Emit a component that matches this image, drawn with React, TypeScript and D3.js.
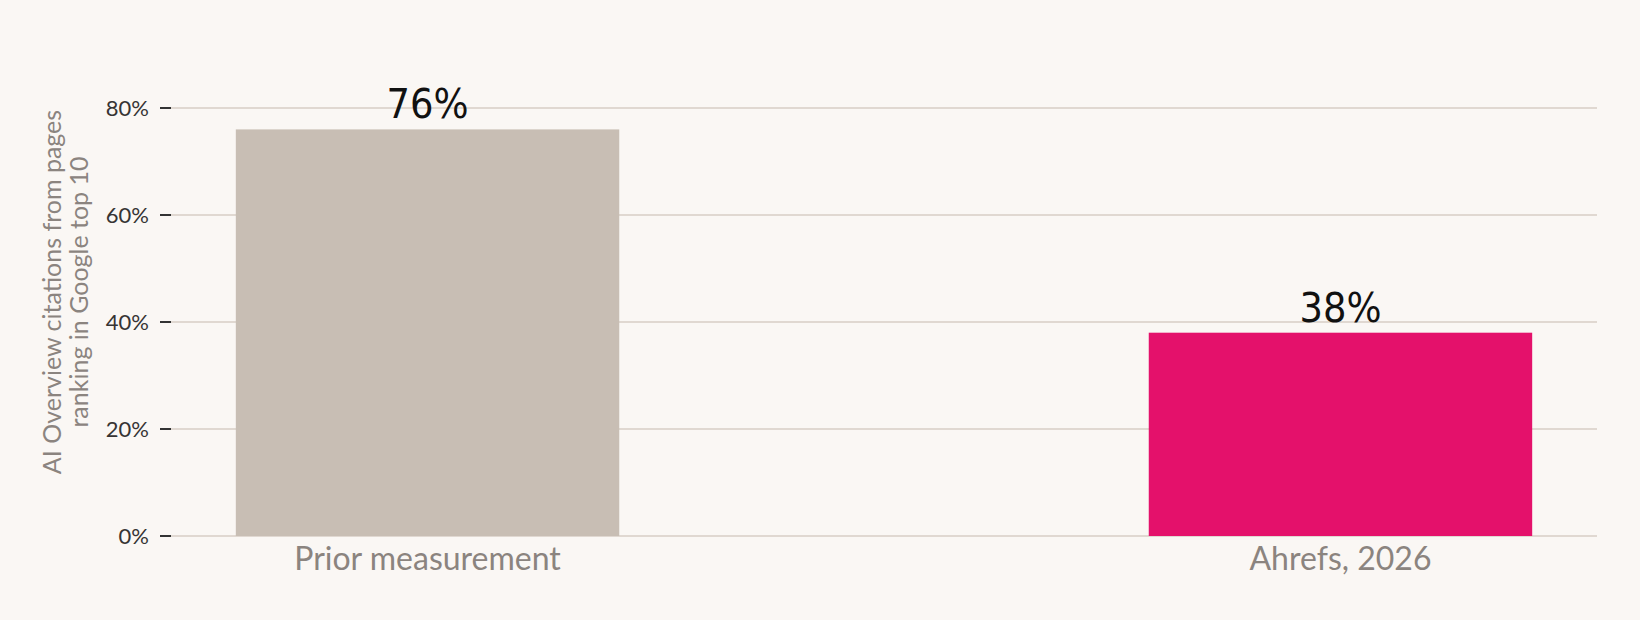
import React from 'react';
import * as d3 from 'd3';

// 数据
const categories = ['Prior measurement', 'Ahrefs, 2026'];
const values = [76, 38];
const barColors = ['#c8beb4', '#e4116b'];
const yTicks = [0, 20, 40, 60, 80];
const yTitle = ['AI Overview citations from pages', 'ranking in Google top 10'];

const W = 1640, H = 620;
const margin = { left: 171, right: 43, top: 108, bottom: 84 };

const App: React.FC = () => {
  const x = d3.scaleBand<string>()
    .domain(categories)
    .range([margin.left, W - margin.right])
    .paddingInner(0.58)
    .paddingOuter(0.071);

  const y = d3.scaleLinear().domain([0, 80]).range([H - margin.bottom, margin.top]);

  const lato = 'Lato, "Noto Sans", sans-serif';

  return (
    <svg width={W} height={H} style={{ position: 'absolute', left: 0, top: 0, background: '#faf7f4' }}>
      <rect width={W} height={H} fill="#faf7f4" />

      {/* 网格线 + 刻度 */}
      {yTicks.map(t => (
        <g key={t}>
          <line x1={margin.left} x2={W - margin.right} y1={y(t)} y2={y(t)} stroke="#e0d8d1" strokeWidth={2} />
          <line x1={margin.left - 11} x2={margin.left} y1={y(t)} y2={y(t)} stroke="#333" strokeWidth={2} />
          <text x={margin.left - 22} y={y(t)} dy="0.35em" textAnchor="end"
            style={{ fontFamily: lato, fontSize: 22, fill: '#363434' }}>{t}%</text>
        </g>
      ))}

      {/* 柱子 */}
      {categories.map((c, i) => (
        <rect key={c} x={x(c)} y={y(values[i])} width={x.bandwidth()}
          height={y(0) - y(values[i])} fill={barColors[i]} />
      ))}

      {/* 数值标签 */}
      {categories.map((c, i) => (
        <text key={c} x={(x(c) ?? 0) + x.bandwidth() / 2} y={y(values[i]) - 11} textAnchor="middle"
          style={{ fontFamily: '"DejaVu Sans Condensed", "DejaVu Sans", sans-serif', fontStretch: 'condensed', fontSize: 41, fill: '#111' }}>
          {values[i]}%
        </text>
      ))}

      {/* 类别标签 */}
      {categories.map(c => (
        <text key={c} x={(x(c) ?? 0) + x.bandwidth() / 2} y={y(0) + 34} textAnchor="middle"
          style={{ fontFamily: lato, fontSize: 32, fill: '#8b847f' }}>{c}</text>
      ))}

      {/* Y轴标题 */}
      <text transform={`translate(61, ${(y(0) + y(80)) / 2 - 30}) rotate(-90)`} textAnchor="middle"
        style={{ fontFamily: lato, fontSize: 25, fill: '#8b847f' }}>
        {yTitle.map((l, i) => (
          <tspan key={i} x={0} dy={i === 0 ? 0 : 27}>{l}</tspan>
        ))}
      </text>
    </svg>
  );
};

export default App;
